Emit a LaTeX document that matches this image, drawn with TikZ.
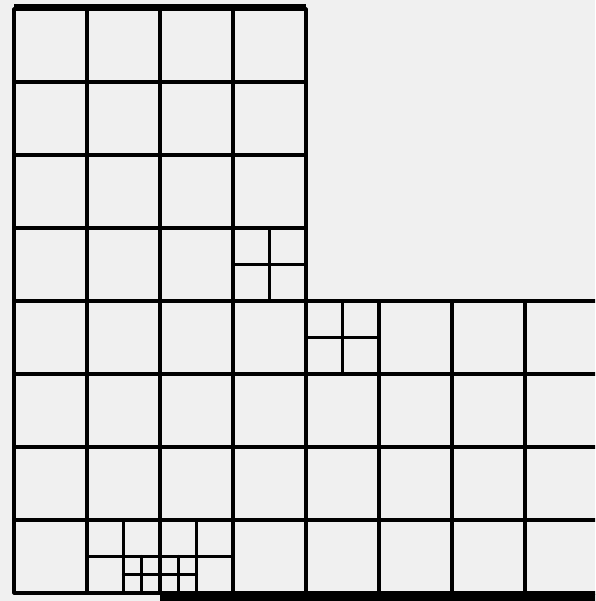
\documentclass[tikz,border=0pt]{standalone}
\begin{document}
\begin{tikzpicture}[scale=1.46]
      \tikzset{mesh/.style={draw=black, line width=1.8pt, line cap=round, line join=round},
               rim/.style={draw=black, line width=4.5pt}}
%% Frame
	\clip (-0.192,-0.110) rectangle (7.959,8.123);
	\fill[black!6] (-0.192,-0.110) rectangle (7.959,8.123);
%% Coarse cells
	%upper arm
      	\draw[mesh] (0,0) grid (4,8);
	%lower arm
      	\draw[mesh] (4,0) grid (8,4);
%% Refined cells
	%corner
		\draw[mesh, step=0.5] (3,4) grid (4,5);
		\draw[mesh, step=0.5] (4,3) grid (5,4);
	%bottom row
		\draw[mesh, step=0.5] (1,0) grid (3,1);
		\draw[mesh, step=0.25] (1.5,0) grid (2.5,0.5);
%% Heavy edges
		\draw[rim] (0,8.02) -- (4,8.02);
		\draw[rim] (2,-0.07) -- (8,-0.07);
\end{tikzpicture}
\end{document}
